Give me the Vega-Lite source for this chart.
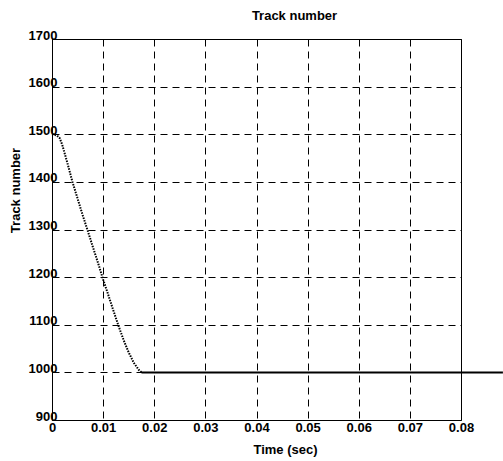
{
  "$schema": "https://vega.github.io/schema/vega-lite/v6.json",
  "autosize": "none",
  "width": 409,
  "height": 381,
  "padding": {"left": 52, "top": 39, "right": 42, "bottom": 41},
  "background": "white",
  "title": {
    "text": "Track number",
    "frame": "group",
    "anchor": "middle",
    "dx": 38,
    "baseline": "alphabetic",
    "offset": -4,
    "font": "Liberation Sans",
    "fontSize": 13,
    "fontWeight": "bold",
    "color": "black"
  },
  "config": {
    "view": {"stroke": "black", "strokeWidth": 1},
    "axis": {
      "labelFont": "Liberation Sans",
      "labelFontSize": 13,
      "labelFontWeight": "bold",
      "labelColor": "black",
      "titleFont": "Liberation Sans",
      "titleFontSize": 13,
      "titleFontWeight": "bold",
      "titleColor": "black",
      "domain": false,
      "ticks": false,
      "tickSize": 0,
      "grid": true,
      "gridColor": "black",
      "gridOpacity": 1,
      "gridWidth": 1,
      "gridDash": [7, 5]
    }
  },
  "data": {
    "values": [
      {"t": 0, "track": 1500, "seg": "transient"},
      {"t": 0.0005, "track": 1499, "seg": "transient"},
      {"t": 0.001, "track": 1497, "seg": "transient"},
      {"t": 0.0015, "track": 1492, "seg": "transient"},
      {"t": 0.002, "track": 1478, "seg": "transient"},
      {"t": 0.003, "track": 1440, "seg": "transient"},
      {"t": 0.004, "track": 1400, "seg": "transient"},
      {"t": 0.005, "track": 1365, "seg": "transient"},
      {"t": 0.006, "track": 1330, "seg": "transient"},
      {"t": 0.007, "track": 1297, "seg": "transient"},
      {"t": 0.008, "track": 1263, "seg": "transient"},
      {"t": 0.009, "track": 1230, "seg": "transient"},
      {"t": 0.010, "track": 1195, "seg": "transient"},
      {"t": 0.011, "track": 1163, "seg": "transient"},
      {"t": 0.012, "track": 1130, "seg": "transient"},
      {"t": 0.013, "track": 1098, "seg": "transient"},
      {"t": 0.014, "track": 1068, "seg": "transient"},
      {"t": 0.015, "track": 1042, "seg": "transient"},
      {"t": 0.016, "track": 1020, "seg": "transient"},
      {"t": 0.017, "track": 1005, "seg": "transient"},
      {"t": 0.0175, "track": 1000, "seg": "transient"},
      {"t": 0.0175, "track": 1000, "seg": "settled"},
      {"t": 0.0882, "track": 1000, "seg": "settled"}
    ]
  },
  "mark": {"type": "line", "clip": false, "color": "black", "strokeWidth": 2},
  "encoding": {
    "x": {
      "field": "t",
      "type": "quantitative",
      "scale": {"domain": [0, 0.08], "nice": false, "zero": false},
      "axis": {
        "values": [0, 0.01, 0.02, 0.03, 0.04, 0.05, 0.06, 0.07, 0.08],
        "format": "~g",
        "labelPadding": 1,
        "labelFlush": false,
        "title": "Time (sec)",
        "titleX": 233,
        "titleY": 33,
        "titleAlign": "center",
        "titleBaseline": "alphabetic",
        "titleAnchor": null
      }
    },
    "y": {
      "field": "track",
      "type": "quantitative",
      "scale": {"domain": [900, 1700], "nice": false, "zero": false},
      "axis": {
        "values": [900, 1000, 1100, 1200, 1300, 1400, 1500, 1600, 1700],
        "format": "d",
        "labelPadding": -5,
        "labelBaseline": "alphabetic",
        "labelFlush": false,
        "title": "Track number",
        "titleX": -37,
        "titleY": 151,
        "titleAngle": -90,
        "titleAlign": "center",
        "titleBaseline": "middle"
      }
    },
    "strokeDash": {
      "field": "seg",
      "type": "nominal",
      "scale": {"domain": ["transient", "settled"], "range": [[1.5, 1.2], [1, 0]]},
      "legend": null
    }
  }
}
